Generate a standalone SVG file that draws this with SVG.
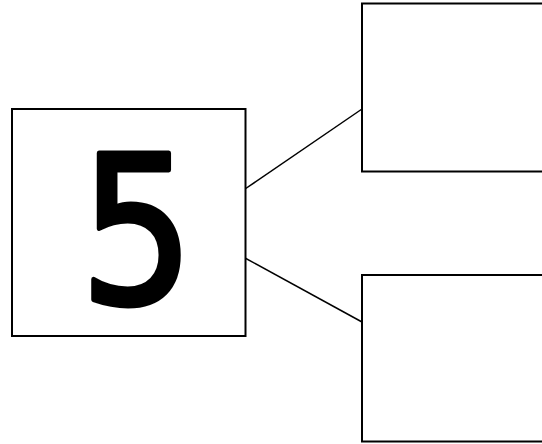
<svg xmlns="http://www.w3.org/2000/svg" width="542" height="444" viewBox="0 0 542 444">
<style>
.box{fill:#fff;stroke:#000;stroke-width:2}
.conn{stroke:#000;stroke-width:1.5;fill:none}
.num{font-family:"DejaVu Sans","Liberation Sans",sans-serif;font-weight:normal;font-size:205px;fill:#000;stroke:#000;stroke-width:5;stroke-linejoin:round}
</style>
<rect width="542" height="444" fill="#fff"/>
<g id="connectors">
<line class="conn" x1="245" y1="189" x2="362" y2="109"/>
<line class="conn" x1="245" y1="258" x2="362" y2="322"/>
</g>
<g id="node-5">
<rect class="box" x="12" y="109" width="233.5" height="227"/>
<text class="num" text-anchor="middle" transform="translate(137,303) scale(0.88,1)">5</text>
</g>
<g id="node-top">
<rect class="box" x="362" y="3.5" width="190" height="168"/>
</g>
<g id="node-bottom">
<rect class="box" x="362" y="275" width="190" height="166.5"/>
</g>
</svg>
